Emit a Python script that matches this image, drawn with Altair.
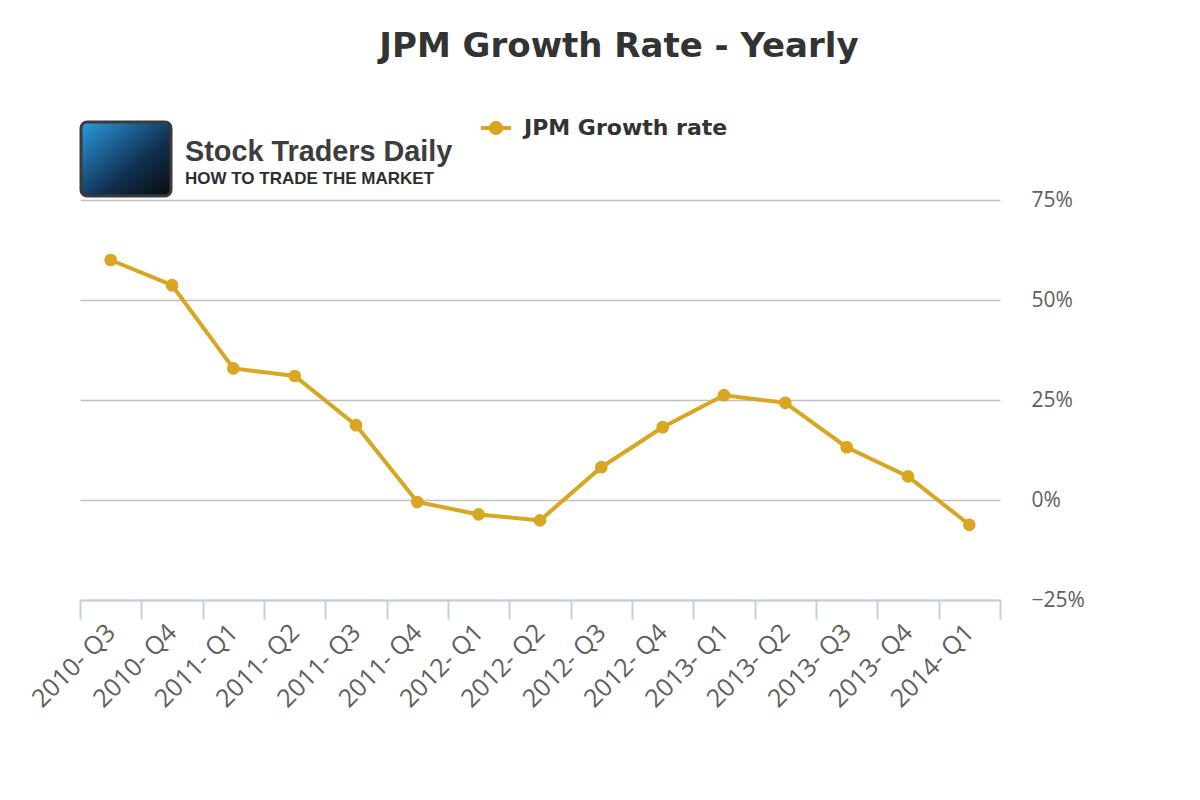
import altair as alt
import pandas as pd

quarters = ["2010- Q3", "2010- Q4", "2011- Q1", "2011- Q2", "2011- Q3",
            "2011- Q4", "2012- Q1", "2012- Q2", "2012- Q3", "2012- Q4",
            "2013- Q1", "2013- Q2", "2013- Q3", "2013- Q4", "2014- Q1"]
growth = [60.0, 53.7, 32.9, 31.0, 18.7, -0.5, -3.6, -5.1, 8.2, 18.2,
          26.2, 24.3, 13.2, 5.9, -6.2]
series_name = "JPM Growth rate"
y_ticks = [-25, 0, 25, 50, 75]
chart_title = "JPM Growth Rate - Yearly"
logo_line1 = ["Stock Traders Daily"]
logo_line2 = ["HOW TO TRADE THE MARKET"]

GOLD = "#DAA520"
LABEL = "#606060"

df = pd.DataFrame({"quarter": quarters, "growth": growth, "series": series_name})
logo_df = pd.DataFrame({"l1": logo_line1, "l2": logo_line2})

x_enc = alt.X(
    "quarter:N", sort=quarters, title=None, bandPosition=0.5,
    scale=alt.Scale(type="band", paddingInner=0, paddingOuter=0),
    axis=alt.Axis(labelAngle=315, labelAlign="right", labelBaseline="middle",
                  labelFont="Open Sans", labelFontSize=25, labelColor=LABEL,
                  labelPadding=9, domainColor="#C0D0E0", domainWidth=2,
                  tickColor="#C0D0E0", tickWidth=2, tickSize=19,
                  tickBand="extent", grid=False, labelOverlap=False),
)
y_enc = alt.Y(
    "growth:Q", title=None,
    scale=alt.Scale(domain=[-25, 75], nice=False, zero=False),
    axis=alt.Axis(orient="right", values=y_ticks,
                  labelExpr="(datum.value < 0 ? '\u2212' : '') + abs(datum.value) + '%'",
                  domain=False, ticks=False, labelPadding=31, labelAlign="left",
                  labelBaseline="middle", labelFont="Open Sans", labelFontSize=21,
                  labelColor=LABEL, gridColor="#C0C0C0", gridWidth=1.5),
)
color_enc = alt.Color(
    "series:N", title=None, scale=alt.Scale(range=[GOLD]),
    legend=alt.Legend(orient="none", legendX=405, legendY=-83, padding=0,
                      symbolType="M-2,0L2,0M0.67,0A0.67,0.67,0,1,1,-0.67,0A0.67,0.67,0,1,1,0.67,0Z",
                      symbolSize=225, symbolFillColor=GOLD, symbolStrokeColor=GOLD,
                      symbolStrokeWidth=4, symbolOpacity=1,
                      labelFont="DejaVu Sans", labelFontSize=22, labelFontWeight="bold",
                      labelColor="#333333", labelOffset=17, labelLimit=500),
)

line = alt.Chart(df).mark_line(strokeWidth=4, color=GOLD).encode(x=x_enc, y=y_enc, color=color_enc)
points = alt.Chart(df).mark_point(filled=True, size=160, opacity=1, shape="circle", color=GOLD).encode(
    x=x_enc, y=y_enc, color=color_enc)

logo_box = alt.Chart(logo_df).mark_rect(
    cornerRadius=6, stroke="#3a3a3a", strokeWidth=3,
    color=alt.Gradient(gradient="linear",
                       stops=[alt.GradientStop(color="#2a9be0", offset=0),
                              alt.GradientStop(color="#103050", offset=0.6),
                              alt.GradientStop(color="#0a0a0a", offset=1)],
                       x1=0, y1=0, x2=1, y2=1),
).encode(x=alt.value(1), x2=alt.value(91), y=alt.value(-78), y2=alt.value(-4))
logo_t1 = alt.Chart(logo_df).mark_text(
    align="left", baseline="alphabetic", font="Liberation Sans", fontWeight="bold",
    fontSize=28.8, color="#3d3d3d").encode(x=alt.value(105), y=alt.value(-39), text="l1:N")
logo_t2 = alt.Chart(logo_df).mark_text(
    align="left", baseline="alphabetic", font="Liberation Sans", fontWeight="bold",
    fontSize=17, color="#2e2e2e").encode(x=alt.value(105), y=alt.value(-16), text="l2:N")

chart = alt.layer(line, points, logo_box, logo_t1, logo_t2).properties(
    width=920, height=400,
    title=alt.TitleParams(text=chart_title, anchor="middle", dx=79, offset=19,
                          baseline="bottom", font="DejaVu Sans", fontSize=34,
                          fontWeight="bold", color="#333333"),
    autosize=alt.AutoSizeParams(type="none"),
    padding={"left": 72, "top": 192, "right": 150, "bottom": 150},
).configure_view(stroke=None)

chart.save("out.html", embed_options={"renderer": "svg", "actions": False})
